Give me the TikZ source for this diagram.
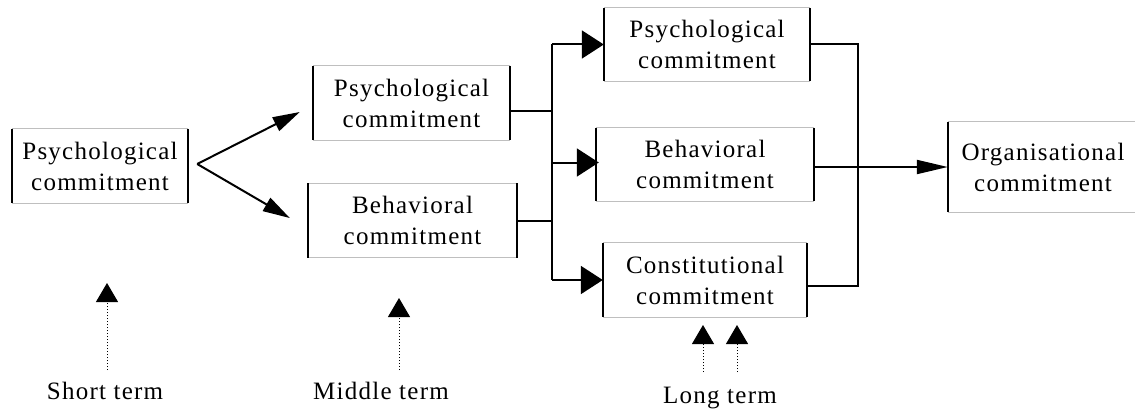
\documentclass[tikz,border=0pt]{standalone}
\usepackage{fontspec}
\setmainfont{Liberation Serif}[LetterSpace=5]
\usetikzlibrary{arrows.meta}

\tikzset{
  box/.style={align=center, inner sep=0pt, minimum height=74pt,
    font=\fontsize{25}{31}\selectfont},
  term/.style={anchor=north, inner sep=0pt, font=\fontsize{25}{28}\selectfont},
  side/.style={line width=2pt},
  rim/.style={line width=1pt, black!25},
  conn/.style={line width=2pt},
  forkarrow/.style={conn, -{Triangle[length=27pt,width=15pt]}},
  stemarrow/.style={conn, -{Triangle[length=22pt,width=28pt]}},
  orgarrow/.style={conn, -{Triangle[length=31pt,width=14pt]}},
  termarrow/.style={line width=1pt, dotted, -{Triangle[length=19pt,width=22pt]}}
}

\begin{document}
\begin{tikzpicture}[x=1pt,y=-1pt]
    \useasboundingbox (0,0) rectangle (1135,412);
    % Boxes
    \node[box, minimum width=176pt] (p1) at (100,166) {Psychological\\commitment};
    \node[box, minimum width=197pt] (p2) at (411.5,103) {Psychological\\commitment};
    \node[box, minimum width=209pt] (b2) at (412.5,220.5) {Behavioral\\commitment};
    \node[box, minimum width=206pt, minimum height=73pt] (p3) at (707,44.5) {Psychological\\commitment};
    \node[box, minimum width=218pt, minimum height=73pt] (b3) at (705,164.5) {Behavioral\\commitment};
    \node[box, minimum width=204pt] (c3) at (705,280) {Constitutional\\commitment};
    \node[box, minimum width=190pt, minimum height=90pt] (org) at (1043,167) {Organisational\\commitment};
    \foreach \n in {p1,p2,b2,p3,b3,c3} {
      \draw[rim] (\n.north west) -- (\n.north east) (\n.south west) -- (\n.south east);
      \draw[side] (\n.north west) -- (\n.south west) (\n.north east) -- (\n.south east);
    }
    \draw[rim] (org.north west) -- (org.north east) (org.south west) -- (org.south east);
    \draw[side] (org.north west) -- (org.south west);
    % Connectors
    \coordinate (fork) at ([xshift=9pt,yshift=2pt]p1.east);
    \coordinate (j1) at (552,0);
    \coordinate (j2) at (858,0);
    \draw[forkarrow] (fork) -- ([xshift=-13pt,yshift=-9pt]p2.west);
    \draw[forkarrow] (fork) -- ([xshift=-18pt,yshift=2.5pt]b2.west);
    \draw[conn] ([yshift=-8pt]p2.east) -- ([yshift=-8pt]p2.east -| j1);
    \draw[conn] (b2.east) -- (b2.east -| j1);
    \draw[conn] (p3.west -| j1) -- (c3.west -| j1);
    \draw[stemarrow] (p3.west -| j1) -- (p3.west);
    \draw[stemarrow] ([yshift=2pt]b3.west -| j1) -- ([xshift=3pt,yshift=2pt]b3.west);
    \draw[stemarrow] (c3.west -| j1) -- (c3.west);
    \draw[conn] (p3.east) -- (p3.east -| j2) -- ([yshift=-6pt]c3.east -| j2) -- ([yshift=-6pt]c3.east);
    \draw[orgarrow] (b3.east |- org.west) -- (org.west);
    % Labels
    \node[term] (short) at (105,382) {Short term};
    \node[term] (middle) at (381,382) {Middle term};
    \node[term] (long) at (720,387) {Long term};
    \draw[termarrow] ([xshift=2pt,yshift=12pt]short.north) -- ++(0,-87);
    \draw[termarrow] ([xshift=18pt,yshift=12pt]middle.north) -- ++(0,-72);
    \draw[termarrow] ([xshift=-17pt,yshift=15pt]long.north) -- ++(0,-47);
    \draw[termarrow] ([xshift=17pt,yshift=15pt]long.north) -- ++(0,-47);
\end{tikzpicture}
\end{document}
